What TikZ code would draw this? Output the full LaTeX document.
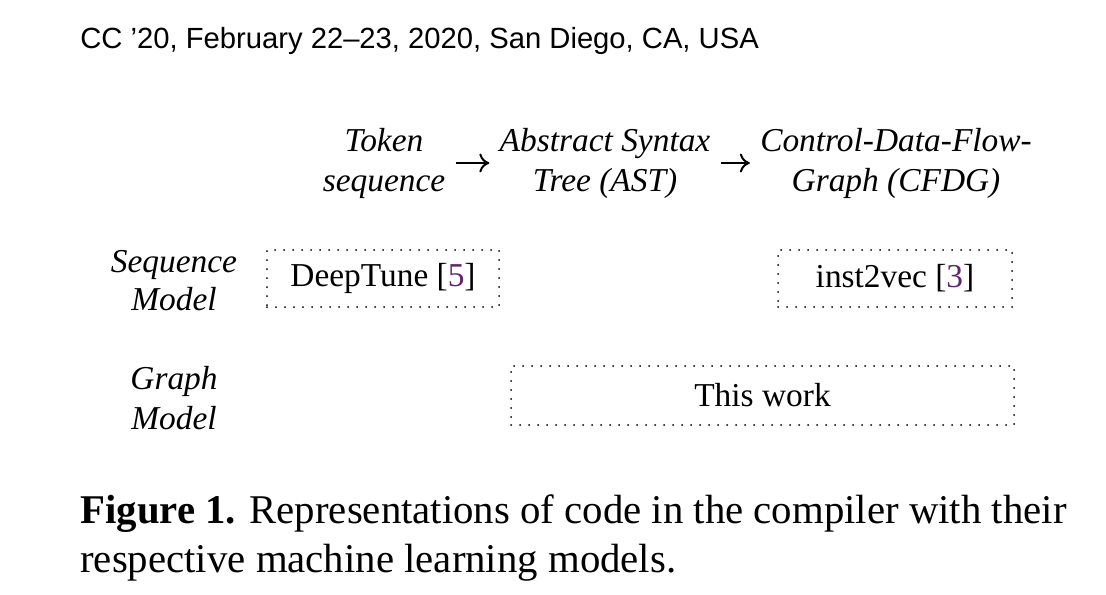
\documentclass[tikz,border=0pt]{standalone}
\usepackage{fontspec}
\setmainfont{Liberation Serif}
\setsansfont{Liberation Sans}
\usetikzlibrary{arrows.meta}
\definecolor{citePurple}{RGB}{95,38,110}

\begin{document}
\begin{tikzpicture}[x=0.5pt, y=-0.5pt, line join=round,
  reprlabel/.style={font=\fontsize{16.7}{20}\selectfont\itshape, align=center, inner sep=0pt},
  modelbox/.style={draw, line width=1pt, line cap=round, dash pattern=on 0pt off 4.5pt,
    inner sep=0pt, font=\fontsize{16.7}{20}\selectfont},
  reprarrow/.style={-{To[length=5pt,width=9.5pt]}, line width=1pt, shorten <=5pt, shorten >=5pt}]
\useasboundingbox (0,0) rectangle (1106,594);
% running head
\node[font=\sffamily\fontsize{14.6}{17}\selectfont, anchor=base west, inner sep=0pt] (head) at (80,48)
  {CC '20, February 22--23, 2020, San Diego, CA, USA};
% representations
\node[reprlabel] (token) at (384,163) {Token\\sequence};
\node[reprlabel] (ast) at (605,163) {Abstract Syntax\\Tree (AST)};
\node[reprlabel] (cfdg) at (896,163) {Control-Data-Flow-\\Graph (CFDG)};
\draw[reprarrow] (token) -- (ast);
\draw[reprarrow] (ast) -- (cfdg);
% models
\node[reprlabel, font=\fontsize{16.7}{19}\selectfont\itshape] (seqmodel) at (174,281) {Sequence\\Model};
\node[reprlabel] (graphmodel) at (174,398) {Graph\\Model};
\node[modelbox, minimum width=116pt, minimum height=28.5pt] (deeptune) at (383,278.5)
  {DeepTune [\textcolor{citePurple}{5}]};
\node[modelbox, minimum width=117pt, minimum height=28.5pt] (inst2vec) at (895,278.5)
  {inst2vec [\textcolor{citePurple}{3}]};
\node[modelbox, minimum width=251.5pt, minimum height=29.5pt] (thiswork) at (762.5,395.5)
  {This work};
% caption
\node[font=\fontsize{20.4}{24.5}\selectfont, anchor=base west, align=left, inner sep=0pt] (caption) at (80,572)
  {\textbf{Figure 1.} Representations of code in the compiler with their\\
   respective machine learning models.};
\end{tikzpicture}
\end{document}
